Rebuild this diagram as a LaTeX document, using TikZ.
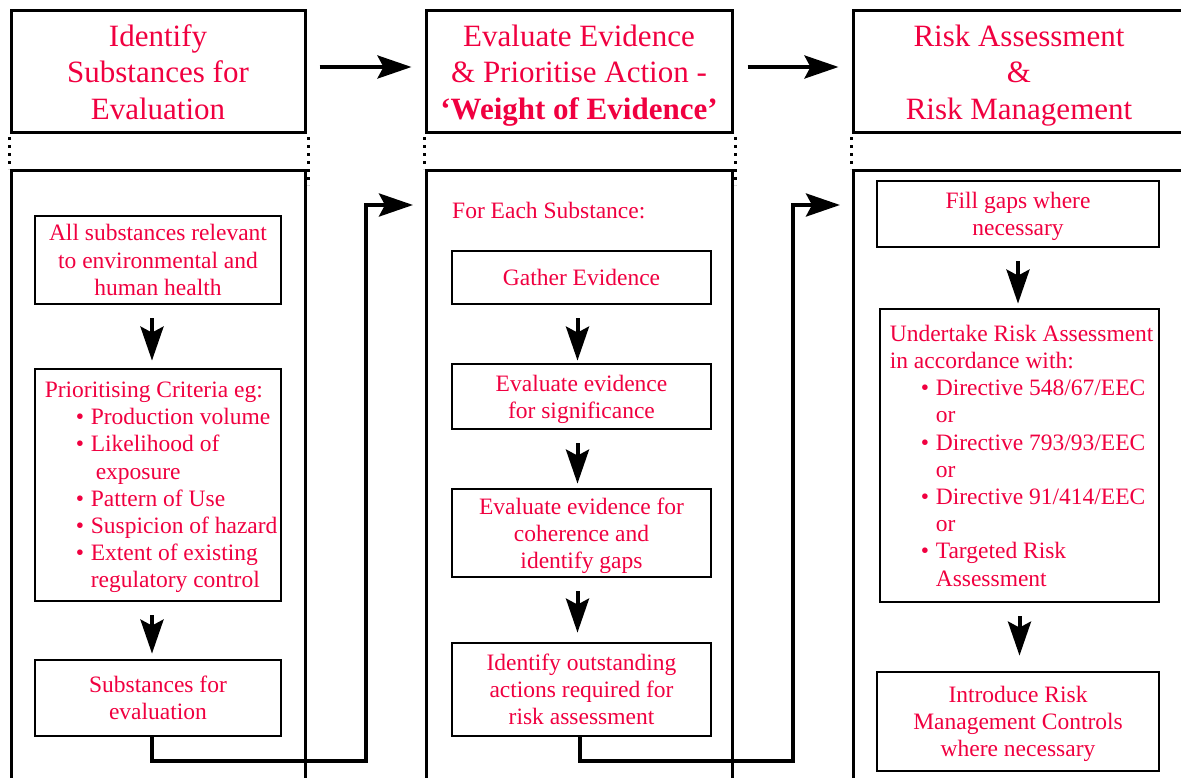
\documentclass[tikz,border=0pt]{standalone}
\usepackage{fontspec}
\setmainfont{Liberation Serif}
\usetikzlibrary{arrows.meta}
\definecolor{txtred}{RGB}{240,0,64}
\newcommand\hdrfont{\fontsize{31}{36.5}\selectfont}
\newcommand\boxfont{\fontsize{23.5}{27.2}\selectfont}
\newcommand\bul[1]{\hspace*{31pt}\makebox[15pt][l]{\textbullet}#1}
\newcommand\cont[1]{\hspace*{46pt}#1}

\begin{document}
\begin{tikzpicture}[x=1pt,y=-1pt,
    frame/.style={draw,line width=3pt,inner sep=0pt},
    hdr/.style={frame,minimum height=122pt,align=center,font=\hdrfont,text=txtred,text depth=0pt},
    col/.style={frame,minimum height=640pt},
    box/.style={frame,line width=2.8pt,align=center,font=\boxfont,text=txtred,text depth=0pt},
    txt/.style={align=left,inner sep=0pt,font=\boxfont,text=txtred,text depth=0pt},
    arr/.style={line width=4pt,-{Stealth[length=34pt,width=23pt,inset=6pt]}},
    dots/.style={line width=2.5pt,dash pattern=on 2.5pt off 5.5pt}]
  \useasboundingbox (0,0) rectangle (1181,778);
  \clip (0,0) rectangle (1181,778);

  % headers and columns
  \node[hdr,minimum width=294pt] (hdr1) at (158,72) {Identify\\Substances for\\Evaluation};
  \node[hdr,minimum width=306pt] (hdr2) at (579,72) {Evaluate Evidence\\\& Prioritise Action -\\\textbf{‘Weight of Evidence’}};
  \node[hdr,minimum width=332pt] (hdr3) at (1019,72) {Risk Assessment\\\&\\Risk Management};
  \node[col,minimum width=294pt] (col1) at (158,491) {};
  \node[col,minimum width=306pt] (col2) at (579,491) {};
  \node[col,minimum width=332pt] (col3) at (1019,491) {};

  \foreach \h/\c in {hdr1/col1,hdr2/col2,hdr3/col3}
    \draw[dots] ([yshift=-3pt]\h.south west) -- (\c.north west);
  \foreach \h in {hdr1,hdr2}
    \draw[dots] ([xshift=2pt,yshift=-3pt]\h.south east) -- ++(0,48);

  \draw[arr] ([xshift=13pt,yshift=5pt]hdr1.east) -- ([xshift=-13pt,yshift=5pt]hdr2.west);
  \draw[arr] ([xshift=14pt,yshift=5pt]hdr2.east) -- ([xshift=-13pt,yshift=5pt]hdr3.west);

  % column 1
  \node[box,minimum width=246pt,minimum height=88pt] (b1) at (158,260) {All substances relevant\\to environmental and\\human health};
  \node[box,minimum width=246pt,minimum height=232pt] (b2) at (158,485) {};
  \node[txt,anchor=west] (b2txt) at ([xshift=11pt]b2.west) {Prioritising Criteria eg:\\
    \bul{Production volume}\\ \bul{Likelihood of}\\ \hspace*{51pt}exposure\\
    \bul{Pattern of Use}\\ \bul{Suspicion of hazard}\\ \bul{Extent of existing}\\
    \cont{regulatory control}};
  \node[box,minimum width=246pt,minimum height=76pt] (b3) at (158,698) {Substances for\\evaluation};

  % column 2
  \node[txt,anchor=west] (each) at (452,210) {For Each Substance:};
  \node[box,minimum width=259pt,minimum height=53pt] (c1) at (581.5,277.5) {Gather Evidence};
  \node[box,minimum width=259pt,minimum height=65pt] (c2) at (581.5,396.5) {Evaluate evidence\\for significance};
  \node[box,minimum width=259pt,minimum height=88pt] (c3) at (581.5,533) {Evaluate evidence for\\coherence and\\identify gaps};
  \node[box,minimum width=259pt,minimum height=93pt] (c4) at (581.5,689.5) {Identify outstanding\\actions required for\\risk assessment};

  % column 3
  \node[box,minimum width=282pt,minimum height=66pt] (d1) at (1018,214) {Fill gaps where\\necessary};
  \node[box,minimum width=279pt,minimum height=293pt] (d2) at (1019.5,455.5) {};
  \node[txt,anchor=west] (d2txt) at ([xshift=11pt]d2.west) {Undertake Risk Assessment\\in accordance with:\\
    \bul{Directive 548/67/EEC}\\ \cont{or}\\ \bul{Directive 793/93/EEC}\\ \cont{or}\\
    \bul{Directive 91/414/EEC}\\ \cont{or}\\ \bul{Targeted Risk}\\ \cont{Assessment}};
  \node[box,minimum width=282pt,minimum height=99pt] (d3) at (1018,721.5) {Introduce Risk\\Management Controls\\where necessary};

  \foreach \a/\b/\s/\d in {b1/b2/7/-6,b2/b3/5/-6,c1/c2/2/-4,c2/c3/4/-4,c3/c4/9/-4,d1/d2/4/0,d2/d3/15/0}
    \draw[arr,shorten <=13pt,shorten >=\s pt] ([xshift=\d pt]\a.south) -- ([xshift=\d pt]\a.south |- \b.north);

  % links between columns
  \coordinate (in2) at (413,205);
  \coordinate (in3) at (840,205);
  \draw[arr] ([xshift=-6pt]b3.south) -- ++(0,24) -| (366,205) -- (in2);
  \draw[arr] ([xshift=-2pt]c4.south) -- ++(0,24) -| (793,205) -- (in3);
\end{tikzpicture}
\end{document}
